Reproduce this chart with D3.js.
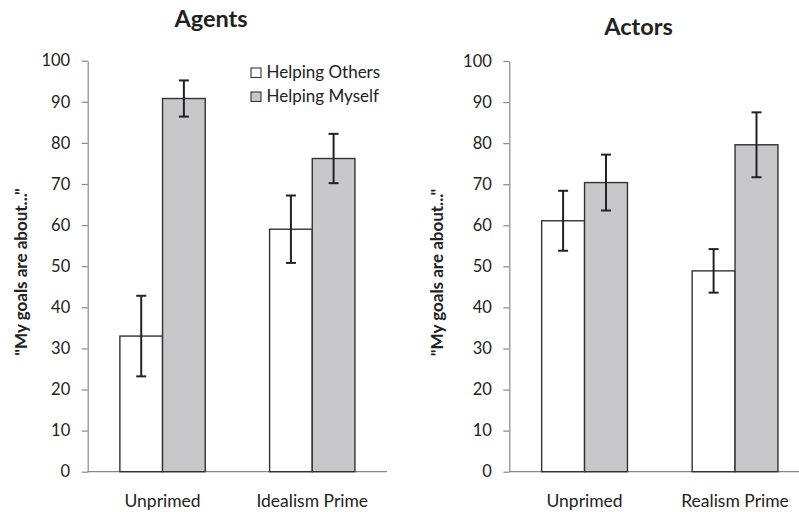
<!DOCTYPE html>
<html>
<head>
<meta charset="utf-8">
<script src="https://cdn.jsdelivr.net/npm/d3@7"></script>
<style>
  html, body { margin: 0; padding: 0; background: #fff; }
  svg { display: block; }
  text { font-family: Lato, "Open Sans", sans-serif; fill: #222; }
</style>
</head>
<body>
<svg id="chart" width="799" height="512"></svg>
<script>
// Two panels: mean ratings with error bars, by prime condition
const seriesNames = ["Helping Others", "Helping Myself"];
const yTicks = [0, 10, 20, 30, 40, 50, 60, 70, 80, 90, 100];

const agentsCategories = ["Unprimed", "Idealism Prime"];
const agentsOthers = [33, 59];
const agentsMyself = [90.8, 76.2];
const agentsOthersErr = [9.8, 8.2];
const agentsMyselfErr = [4.4, 6.0];

const actorsCategories = ["Unprimed", "Realism Prime"];
const actorsOthers = [61.1, 48.9];
const actorsMyself = [70.4, 79.6];
const actorsOthersErr = [7.3, 5.3];
const actorsMyselfErr = [6.8, 7.9];

const fills = ["#ffffff", "#c8c8ca"];

const svg = d3.select("#chart");

function panel(opts) {
  const { left, top, bottom, bandSpan, visibleRight, title, titleX, titleY,
          labelX, labelY, categories, others, myself, othersErr, myselfErr, legend } = opts;

  const g = svg.append("g");
  const y = d3.scaleLinear().domain([0, 100]).range([bottom, top]);
  const x0 = d3.scaleBand().domain(categories).range([left, left + bandSpan])
    .paddingInner(0).paddingOuter(0);
  const innerFrac = 0.57;
  const x1 = d3.scaleBand().domain(seriesNames)
    .range([0, x0.bandwidth() * innerFrac]);
  const groupOffset = x0.bandwidth() * (1 - innerFrac) / 2;

  // y axis
  const yAxis = d3.axisLeft(y).tickValues(yTicks).tickSize(6).tickPadding(11.5)
    .tickSizeOuter(0);
  const ya = g.append("g").attr("transform", `translate(${left},0)`).call(yAxis);
  ya.select(".domain").attr("stroke", "#888").attr("stroke-width", 1.2);
  ya.selectAll(".tick line").attr("stroke", "#888").attr("stroke-width", 1.2);
  ya.selectAll(".tick text").attr("font-size", 16.5).attr("fill", "#222")
    .style("font-family", "Lato, sans-serif");

  // baseline
  g.append("line")
    .attr("x1", left).attr("x2", visibleRight)
    .attr("y1", y(0)).attr("y2", y(0))
    .attr("stroke", "#888").attr("stroke-width", 1.2);

  // category labels
  g.selectAll(".cat").data(categories).join("text")
    .attr("class", "cat")
    .attr("x", d => x0(d) + x0.bandwidth() / 2)
    .attr("y", 507)
    .attr("text-anchor", "middle")
    .attr("font-size", 17.5)
    .text(d => d);

  const rows = categories.map((c, i) => [
    { cat: c, s: seriesNames[0], v: others[i], e: othersErr[i], f: fills[0] },
    { cat: c, s: seriesNames[1], v: myself[i], e: myselfErr[i], f: fills[1] }
  ]).flat();

  const bx = d => x0(d.cat) + groupOffset + x1(d.s);

  g.selectAll(".bar").data(rows).join("rect")
    .attr("class", "bar")
    .attr("x", bx)
    .attr("y", d => y(d.v))
    .attr("width", x1.bandwidth())
    .attr("height", d => y(0) - y(d.v))
    .attr("fill", d => d.f)
    .attr("stroke", "#333")
    .attr("stroke-width", 1.4);

  // error bars
  const eb = g.selectAll(".err").data(rows).join("g").attr("class", "err");
  const cx = d => bx(d) + x1.bandwidth() / 2;
  const cap = 5;
  eb.append("line")
    .attr("x1", cx).attr("x2", cx)
    .attr("y1", d => y(d.v + d.e)).attr("y2", d => y(d.v - d.e))
    .attr("stroke", "#222").attr("stroke-width", 2);
  eb.append("line")
    .attr("x1", d => cx(d) - cap).attr("x2", d => cx(d) + cap)
    .attr("y1", d => y(d.v + d.e)).attr("y2", d => y(d.v + d.e))
    .attr("stroke", "#222").attr("stroke-width", 2);
  eb.append("line")
    .attr("x1", d => cx(d) - cap).attr("x2", d => cx(d) + cap)
    .attr("y1", d => y(d.v - d.e)).attr("y2", d => y(d.v - d.e))
    .attr("stroke", "#222").attr("stroke-width", 2);

  // title
  g.append("text")
    .attr("x", titleX)
    .attr("y", titleY)
    .attr("text-anchor", "middle")
    .attr("font-size", 23.5)
    .attr("font-weight", "bold")
    .text(title);

  // y axis label
  g.append("text")
    .attr("transform", `translate(${labelX},${labelY}) rotate(-90)`)
    .attr("text-anchor", "middle")
    .attr("font-size", 17)
    .attr("font-weight", "bold")
    .text('"My goals are about..."');

  if (legend) {
    const lg = g.append("g").attr("transform", `translate(${legend.x},${legend.y})`);
    seriesNames.forEach((s, i) => {
      const row = lg.append("g").attr("transform", `translate(0,${i * 24})`);
      row.append("rect")
        .attr("x", 0).attr("y", -10).attr("width", 10).attr("height", 9.5)
        .attr("fill", fills[i]).attr("stroke", "#333").attr("stroke-width", 1.1);
      row.append("text")
        .attr("x", 15.5).attr("y", 0)
        .attr("font-size", 17)
        .text(s);
    });
  }
}

panel({
  left: 87.7, top: 60.7, bottom: 471.7, bandSpan: 299.4, visibleRight: 387,
  title: "Agents", titleX: 211, titleY: 27, labelX: 26.5, labelY: 272,
  categories: agentsCategories, others: agentsOthers, myself: agentsMyself,
  othersErr: agentsOthersErr, myselfErr: agentsMyselfErr,
  legend: { x: 251, y: 78 }
});

panel({
  left: 509.3, top: 61, bottom: 471.7, bandSpan: 301, visibleRight: 799,
  title: "Actors", titleX: 638.5, titleY: 35, labelX: 443, labelY: 272.5,
  categories: actorsCategories, others: actorsOthers, myself: actorsMyself,
  othersErr: actorsOthersErr, myselfErr: actorsMyselfErr,
  legend: null
});
</script>
</body>
</html>
